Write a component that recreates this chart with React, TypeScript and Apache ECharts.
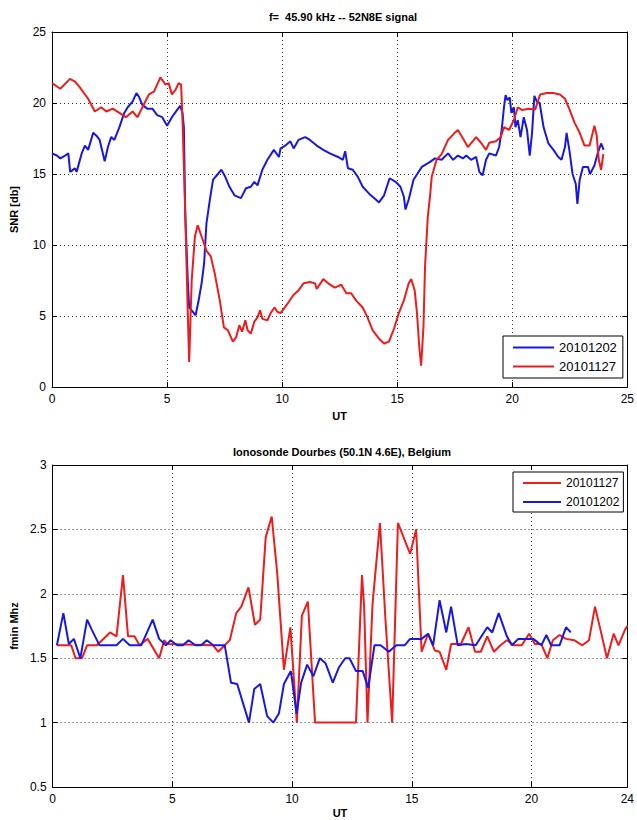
import React, { useEffect, useRef } from "react";
import * as echarts from "echarts";

// ---------- Top panel: SNR [db] vs UT ----------
const snrBlueName = "20101202";
const snrRedName = "20101127";

const snrBlueUT = [0, 0.21, 0.36, 0.57, 0.71, 0.79, 1.0, 1.07, 1.29, 1.43, 1.57, 1.79, 1.93, 2.07, 2.29, 2.43, 2.57, 2.71, 2.93, 3.14, 3.29, 3.5, 3.67, 3.79, 3.93, 4.14, 4.36, 4.57, 4.79, 5.0, 5.21, 5.43, 5.57, 5.67, 5.73, 5.79, 5.9, 5.96, 6.07, 6.24, 6.36, 6.5, 6.61, 6.71, 6.86, 7.0, 7.21, 7.36, 7.5, 7.71, 7.93, 8.21, 8.43, 8.64, 8.79, 8.93, 9.14, 9.36, 9.64, 9.86, 9.93, 10.14, 10.36, 10.5, 10.71, 11.0, 11.21, 11.5, 11.79, 12.07, 12.43, 12.64, 12.74, 12.86, 13.07, 13.29, 13.5, 13.79, 14.07, 14.21, 14.43, 14.67, 14.93, 15.14, 15.29, 15.36, 15.5, 15.71, 16.07, 16.43, 16.64, 16.93, 17.21, 17.43, 17.64, 17.86, 18.0, 18.21, 18.43, 18.57, 18.71, 18.86, 19.0, 19.29, 19.43, 19.54, 19.64, 19.71, 19.79, 19.89, 19.96, 20.07, 20.14, 20.24, 20.36, 20.5, 20.64, 20.76, 20.86, 20.96, 21.07, 21.19, 21.36, 21.57, 21.79, 22.0, 22.14, 22.29, 22.36, 22.48, 22.62, 22.76, 22.83, 22.93, 23.07, 23.29, 23.38, 23.57, 23.71, 23.86, 23.97];
const snrBlue = [16.45, 16.3, 16.1, 16.3, 16.45, 15.15, 15.4, 15.15, 16.45, 17.0, 16.7, 17.9, 17.7, 17.4, 15.9, 16.9, 17.6, 17.4, 18.3, 19.3, 19.7, 20.1, 20.7, 20.4, 19.85, 19.6, 19.6, 19.15, 19.0, 18.4, 19.0, 19.5, 19.8, 19.3, 18.3, 12.2, 7.5, 5.6, 5.4, 5.05, 6.0, 7.3, 8.7, 11.5, 13.2, 14.6, 15.0, 15.3, 14.9, 14.1, 13.5, 13.3, 14.0, 14.1, 14.45, 14.2, 15.3, 16.0, 16.7, 16.2, 16.8, 17.0, 17.3, 16.8, 17.4, 17.6, 17.4, 17.0, 16.7, 16.45, 16.2, 16.0, 16.6, 15.4, 15.3, 14.8, 14.1, 13.6, 13.2, 13.0, 13.5, 14.7, 14.45, 14.1, 13.4, 12.5, 13.2, 14.6, 15.5, 15.85, 16.1, 16.0, 16.45, 16.0, 16.3, 16.1, 16.3, 16.0, 16.2, 15.15, 14.9, 16.0, 16.45, 16.3, 16.9, 18.1, 19.7, 20.55, 20.2, 20.4, 19.3, 19.7, 18.3, 18.8, 17.6, 19.0, 18.1, 16.3, 17.9, 20.5, 20.1, 20.0, 18.3, 17.15, 16.7, 16.2, 16.0, 16.9, 17.9, 16.7, 15.0, 14.3, 12.9, 14.6, 15.5, 15.5, 15.0, 15.6, 16.45, 17.15, 16.7];

const snrRedUT = [0, 0.36, 0.78, 1.0, 1.21, 1.57, 1.86, 2.14, 2.36, 2.64, 2.93, 3.21, 3.5, 3.71, 3.93, 4.21, 4.43, 4.71, 4.93, 5.07, 5.21, 5.36, 5.5, 5.61, 5.68, 5.79, 5.9, 5.96, 6.07, 6.21, 6.33, 6.5, 6.71, 6.9, 7.07, 7.29, 7.47, 7.64, 7.86, 8.0, 8.14, 8.26, 8.4, 8.5, 8.64, 8.79, 8.93, 9.04, 9.14, 9.36, 9.5, 9.67, 9.79, 9.93, 10.07, 10.29, 10.5, 10.71, 10.93, 11.21, 11.43, 11.5, 11.79, 12.0, 12.29, 12.57, 12.79, 13.0, 13.21, 13.5, 13.71, 13.93, 14.21, 14.43, 14.64, 14.86, 15.07, 15.29, 15.5, 15.61, 15.76, 15.86, 15.96, 16.04, 16.14, 16.21, 16.33, 16.43, 16.5, 16.71, 16.93, 17.21, 17.5, 17.64, 17.86, 18.07, 18.43, 18.64, 18.86, 19.0, 19.29, 19.5, 19.64, 19.86, 20.07, 20.24, 20.43, 20.71, 21.0, 21.21, 21.5, 21.79, 22.07, 22.29, 22.5, 22.71, 22.93, 23.14, 23.36, 23.57, 23.67, 23.76, 23.86, 23.96];
const snrRed = [21.4, 21.0, 21.7, 21.5, 21.1, 20.3, 19.4, 19.7, 19.4, 19.6, 19.3, 19.0, 19.4, 19.0, 19.7, 20.6, 20.8, 21.8, 21.3, 21.4, 20.6, 20.9, 21.4, 21.3, 18.4, 12.2, 5.2, 1.76, 7.5, 10.6, 11.4, 10.6, 9.6, 9.2, 8.0, 6.1, 4.2, 4.0, 3.2, 3.5, 4.35, 3.9, 4.7, 4.0, 3.76, 4.6, 4.9, 5.4, 4.8, 4.7, 5.2, 5.6, 5.3, 5.2, 5.5, 6.0, 6.5, 6.8, 7.3, 7.4, 7.3, 6.9, 7.6, 7.3, 7.0, 7.2, 6.6, 6.6, 6.1, 5.6, 4.9, 4.0, 3.4, 3.06, 3.2, 4.1, 5.2, 6.1, 7.3, 7.6, 6.8, 5.2, 2.8, 1.5, 4.2, 8.5, 12.0, 13.5, 14.8, 16.0, 16.4, 17.4, 17.9, 18.1, 17.5, 16.9, 17.6, 17.2, 16.7, 17.2, 17.3, 17.6, 18.3, 18.1, 18.8, 19.7, 19.5, 19.6, 19.55, 20.6, 20.7, 20.7, 20.6, 20.3, 19.5, 18.6, 17.9, 17.0, 17.0, 18.4, 17.7, 16.0, 15.3, 16.4];

const snrXTicks = { min: 0, max: 25, interval: 5 };
const snrYTicks = { min: 0, max: 25, interval: 5 };

// ---------- Bottom panel: fmin Mhz vs UT ----------
const fminRedUT = [0.18, 0.78, 0.96, 1.23, 1.44, 1.85, 2.4, 2.67, 2.94, 3.15, 3.42, 3.63, 3.97, 4.45, 4.66, 4.79, 6.7, 6.92, 7.19, 7.4, 7.67, 7.88, 8.18, 8.45, 8.67, 8.9, 9.15, 9.38, 9.66, 9.93, 10.2, 10.41, 10.66, 10.96, 12.67, 12.92, 13.01, 13.15, 13.36, 13.67, 13.9, 14.18, 14.42, 14.93, 15.18, 15.41, 15.68, 15.96, 16.16, 16.44, 16.64, 17.05, 17.37, 17.64, 17.88, 18.15, 18.43, 18.7, 18.97, 19.25, 19.59, 19.9, 20.14, 20.41, 20.66, 20.89, 21.17, 21.44, 21.78, 22.12, 22.4, 22.65, 22.88, 23.15, 23.43, 23.63, 23.9, 24.0];
const fminRed = [1.6, 1.6, 1.5, 1.5, 1.6, 1.6, 1.7, 1.67, 2.145, 1.67, 1.67, 1.6, 1.65, 1.5, 1.64, 1.61, 1.6, 1.55, 1.6, 1.64, 1.85, 1.9, 2.05, 1.76, 1.8, 2.44, 2.6, 2.16, 1.41, 1.74, 1.0, 1.83, 1.94, 1.0, 1.0, 2.145, 1.9, 1.0, 1.92, 2.55, 1.8, 1.0, 2.55, 2.31, 2.5, 1.55, 1.69, 1.56, 1.55, 1.41, 1.61, 1.61, 1.74, 1.55, 1.55, 1.67, 1.55, 1.6, 1.64, 1.6, 1.6, 1.69, 1.61, 1.61, 1.5, 1.64, 1.68, 1.65, 1.64, 1.6, 1.64, 1.9, 1.72, 1.5, 1.69, 1.6, 1.72, 1.75];

const fminBlueUT = [0.18, 0.45, 0.68, 0.89, 1.16, 1.44, 1.64, 1.96, 2.67, 2.94, 3.22, 3.7, 4.18, 4.45, 4.73, 4.93, 5.2, 5.44, 5.68, 5.96, 6.2, 6.44, 6.71, 7.19, 7.45, 7.71, 8.2, 8.42, 8.67, 8.96, 9.22, 9.45, 9.66, 9.95, 10.19, 10.38, 10.63, 10.89, 11.16, 11.4, 11.7, 11.96, 12.22, 12.4, 12.67, 12.95, 13.18, 13.44, 13.7, 14.04, 14.35, 14.7, 14.93, 15.41, 15.68, 15.89, 16.16, 16.44, 16.64, 16.92, 17.26, 17.67, 18.15, 18.36, 18.63, 18.97, 19.18, 19.45, 19.79, 20.07, 20.41, 20.62, 20.82, 21.17, 21.44, 21.64];
const fminBlue = [1.6, 1.85, 1.61, 1.65, 1.5, 1.8, 1.72, 1.6, 1.6, 1.65, 1.6, 1.6, 1.8, 1.65, 1.6, 1.64, 1.6, 1.6, 1.64, 1.6, 1.6, 1.64, 1.6, 1.6, 1.31, 1.3, 1.0, 1.26, 1.3, 1.05, 1.0, 1.07, 1.3, 1.4, 1.07, 1.31, 1.45, 1.36, 1.5, 1.46, 1.31, 1.43, 1.5, 1.5, 1.4, 1.4, 1.27, 1.6, 1.6, 1.55, 1.6, 1.6, 1.65, 1.65, 1.69, 1.6, 1.95, 1.7, 1.9, 1.6, 1.61, 1.6, 1.74, 1.7, 1.85, 1.67, 1.6, 1.65, 1.65, 1.65, 1.6, 1.68, 1.6, 1.6, 1.74, 1.7];

const fminXTicks = { min: 0, max: 24, interval: 5 };
const fminYTicks = { min: 0.5, max: 3, interval: 0.5 };

const topTitle = "f=  45.90 kHz -- 52N8E signal";
const bottomTitle = "Ionosonde Dourbes (50.1N 4.6E), Belgium";

const RED = "#ee1c1c";
const BLUE = "#1818e6";
const FONT = "'Liberation Sans', Arial, Helvetica, sans-serif";

function pairs(xs: number[], ys: number[]) {
  return xs.map((x, i) => [x, ys[i]]);
}

function mainAxis(grid: number, pos: string, t: { min: number; max: number; interval: number }, extra: any = {}) {
  return {
    type: "value",
    gridIndex: grid,
    position: pos,
    min: t.min,
    max: t.max,
    interval: t.interval,
    axisLine: { show: true, onZero: false, lineStyle: { color: "#000", width: 1 } },
    axisTick: { show: true, inside: true, length: 5, lineStyle: { color: "#000" } },
    axisLabel: { show: true, color: "#000", fontSize: 12, fontFamily: FONT, margin: 6 },
    splitLine: { show: true, lineStyle: { color: "#333", width: 1, type: [1, 3] } },
    ...extra,
  };
}

function mirrorAxis(grid: number, pos: string, t: { min: number; max: number; interval: number }) {
  return {
    type: "value",
    gridIndex: grid,
    position: pos,
    min: t.min,
    max: t.max,
    interval: t.interval,
    axisLine: { show: true, onZero: false, lineStyle: { color: "#000", width: 1 } },
    axisTick: { show: true, inside: true, length: 5, lineStyle: { color: "#000" } },
    axisLabel: { show: false },
    splitLine: { show: false },
  };
}

const nameStyle = { color: "#000", fontSize: 11, fontWeight: "bold", fontFamily: FONT };

export default function App() {
  const ref = useRef<HTMLDivElement>(null);

  useEffect(() => {
    if (!ref.current) return;
    const chart = echarts.init(ref.current, undefined, { renderer: "svg" });
    const legendBase = {
      orient: "vertical",
      borderColor: "#000",
      borderWidth: 1,
      backgroundColor: "#fff",
      itemStyle: { opacity: 0 },
      lineStyle: { width: 2 },
    };
    const option: any = {
      animation: false,
      backgroundColor: "#fff",
      grid: [
        { left: 52, top: 32, width: 582, height: 355, containLabel: false },
        { left: 52, top: 465, width: 581, height: 322, containLabel: false },
      ],
      xAxis: [
        mainAxis(0, "bottom", snrXTicks, {
          name: "UT",
          nameLocation: "middle",
          nameGap: 23,
          nameTextStyle: nameStyle,
        }),
        mirrorAxis(0, "top", snrXTicks),
        mainAxis(1, "bottom", fminXTicks, {
          name: "UT",
          nameLocation: "middle",
          nameGap: 20,
          nameTextStyle: nameStyle,
        }),
        mirrorAxis(1, "top", fminXTicks),
      ],
      yAxis: [
        mainAxis(0, "left", snrYTicks, {
          name: "SNR [db]",
          nameLocation: "middle",
          nameGap: 33,
          nameTextStyle: nameStyle,
        }),
        mirrorAxis(0, "right", snrYTicks),
        mainAxis(1, "left", fminYTicks, {
          name: "fmin Mhz",
          nameLocation: "middle",
          nameGap: 33,
          nameTextStyle: nameStyle,
        }),
        mirrorAxis(1, "right", fminYTicks),
      ],
      legend: [
        {
          ...legendBase,
          data: [snrBlueName, snrRedName],
          left: 503,
          top: 336,
          itemWidth: 41,
          itemHeight: 14,
          itemGap: 6,
          padding: [5, 6, 5, 9],
          textStyle: { color: "#000", fontSize: 13, fontFamily: FONT },
        },
        {
          ...legendBase,
          data: [snrRedName, snrBlueName],
          left: 513,
          top: 472,
          itemWidth: 38,
          itemHeight: 12,
          itemGap: 7,
          padding: [5, 4, 4, 9],
          textStyle: { color: "#000", fontSize: 12, fontFamily: FONT },
        },
      ],
      graphic: [
        {
          type: "text",
          x: 343,
          y: 17,
          style: {
            text: topTitle,
            fontSize: 11,
            fontWeight: "bold",
            fontFamily: FONT,
            fill: "#000",
            align: "center",
            verticalAlign: "middle",
          },
        },
        {
          type: "text",
          x: 342,
          y: 452,
          style: {
            text: bottomTitle,
            fontSize: 11,
            fontWeight: "bold",
            fontFamily: FONT,
            fill: "#000",
            align: "center",
            verticalAlign: "middle",
          },
        },
      ],
      series: [
        {
          name: snrBlueName,
          type: "line",
          xAxisIndex: 0,
          yAxisIndex: 0,
          data: pairs(snrBlueUT, snrBlue),
          symbol: "none",
          showSymbol: false,
          lineStyle: { color: BLUE, width: 2 },
          itemStyle: { color: BLUE },
        },
        {
          name: snrRedName,
          type: "line",
          xAxisIndex: 0,
          yAxisIndex: 0,
          data: pairs(snrRedUT, snrRed),
          symbol: "none",
          showSymbol: false,
          lineStyle: { color: RED, width: 2 },
          itemStyle: { color: RED },
        },
        {
          name: snrRedName,
          type: "line",
          xAxisIndex: 2,
          yAxisIndex: 2,
          data: pairs(fminRedUT, fminRed),
          symbol: "none",
          showSymbol: false,
          lineStyle: { color: RED, width: 2 },
          itemStyle: { color: RED },
        },
        {
          name: snrBlueName,
          type: "line",
          xAxisIndex: 2,
          yAxisIndex: 2,
          data: pairs(fminBlueUT, fminBlue),
          symbol: "none",
          showSymbol: false,
          lineStyle: { color: BLUE, width: 2 },
          itemStyle: { color: BLUE },
        },
      ],
    };
    chart.setOption(option);
    return () => {
      chart.dispose();
    };
  }, []);

  return (
    <div
      ref={ref}
      style={{ position: "absolute", left: 0, top: 0, width: 637, height: 820, background: "#fff" }}
    />
  );
}
